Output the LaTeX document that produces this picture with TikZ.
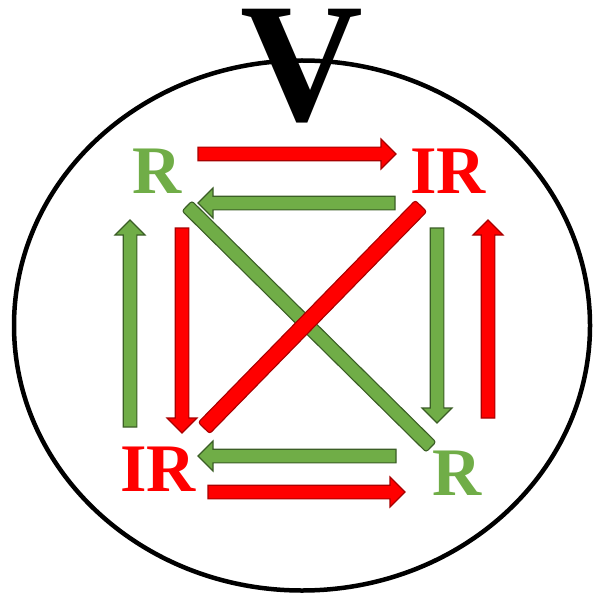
\documentclass[tikz,border=0pt]{standalone}
\usepackage{fontspec}
\setmainfont{Liberation Serif}
\usetikzlibrary{calc}
\definecolor{gfill}{HTML}{70AD47}
\definecolor{gline}{HTML}{3B5E26}
\definecolor{rfill}{HTML}{FF0000}
\definecolor{rline}{HTML}{A80000}
\newcommand{\blockarr}[3]{%
  \coordinate (ba-c) at ($(#3)!15pt!(#2)$);
  \draw[#1] ($(#2)!6.8pt!90:(#3)$) -- ($(ba-c)!6.8pt!90:(#3)$) -- ($(ba-c)!15pt!90:(#3)$) -- (#3)
     -- ($(ba-c)!15pt!-90:(#3)$) -- ($(ba-c)!6.8pt!-90:(#3)$) -- ($(#2)!6.8pt!-90:(#3)$) -- cycle;}
\newcommand{\diagbar}[4]{%
  \draw[#1, rounded corners=2.5pt] ($(#2)!#4!90:(#3)$) -- ($(#3)!#4!-90:(#2)$) -- ($(#3)!#4!90:(#2)$) -- ($(#2)!#4!-90:(#3)$) -- cycle;}
\begin{document}
\begin{tikzpicture}[x=1pt,y=-1pt,
  garr/.style={fill=gfill, draw=gline, line width=1.1pt, line join=miter},
  rarr/.style={fill=rfill, draw=rline, line width=1.1pt, line join=miter},
  lbl/.style={inner sep=0pt, font=\fontsize{68}{68}\selectfont\bfseries},
  glbl/.style={lbl, text=gfill},
  rlbl/.style={lbl, text=rfill}]
\useasboundingbox (0,0) rectangle (593,596);
\draw[line width=4.5pt] (302,325.5) ellipse [x radius=288, y radius=265];
\node[inner sep=0pt, font=\fontsize{170}{170}\selectfont\bfseries] (V) at (302,66) {V};
\node[glbl] (R1) at (157,171) {R};
\node[rlbl] (IR1) at (448,171) {IR};
\node[rlbl] (IR2) at (158,469) {IR};
\node[glbl] (R2) at (457,473) {R};
% diagonals
\coordinate (gd1) at (187,206); \coordinate (gd2) at (431,447);
\coordinate (rd1) at (421,206); \coordinate (rd2) at (204,428);
\diagbar{garr}{gd1}{gd2}{7pt}
\diagbar{rarr}{rd1}{rd2}{8pt}
% arrow end points
\coordinate (t1) at (198,154); \coordinate (t2) at (396,154);
\coordinate (s1) at (395,203); \coordinate (s2) at (198,203);
\coordinate (l1) at (130,427); \coordinate (l2) at (130,220);
\coordinate (m1) at (182,228); \coordinate (m2) at (182,433);
\coordinate (n1) at (437,228); \coordinate (n2) at (437,423);
\coordinate (o1) at (488,418); \coordinate (o2) at (488,220);
\coordinate (b1) at (396,456); \coordinate (b2) at (198,456);
\coordinate (c1) at (208,492); \coordinate (c2) at (405,492);
\blockarr{rarr}{t1}{t2}
\blockarr{garr}{s1}{s2}
\blockarr{garr}{l1}{l2}
\blockarr{rarr}{m1}{m2}
\blockarr{garr}{n1}{n2}
\blockarr{rarr}{o1}{o2}
\blockarr{garr}{b1}{b2}
\blockarr{rarr}{c1}{c2}
\end{tikzpicture}
\end{document}
